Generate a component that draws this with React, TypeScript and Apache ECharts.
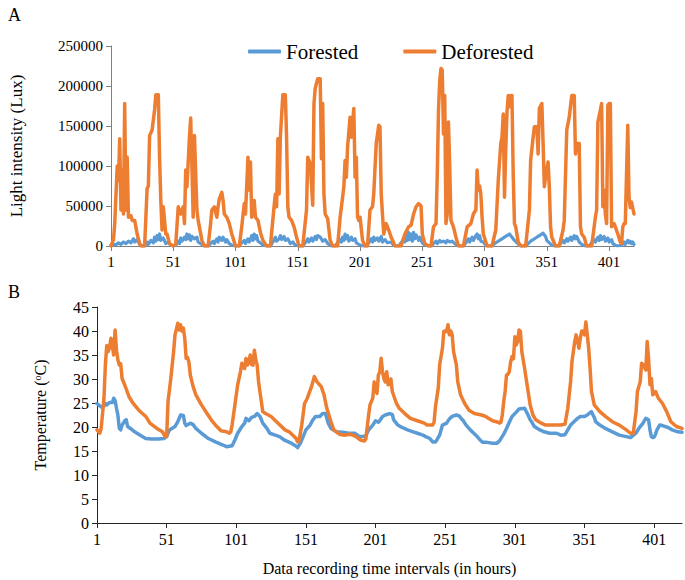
import React, { useEffect, useRef } from "react";
import * as echarts from "echarts";

// ---- Axis tick values ----
const xTickValues = [1, 51, 101, 151, 201, 251, 301, 351, 401];
const xMin = 1;
const xMax = 421;
const lightMax = 250000;
const lightStep = 50000;
const tempMax = 45;
const tempStep = 5;

const legendNames = ["Forested", "Deforested"];

// ---- Panel A: light intensity (Lux), [hour, lux] ----
const forestedLight: [number, number][] = [
  [1,1000],[3,2000],[5,1500],[7,4000],[9,2000],[11,5000],[13,3000],[15,6000],[17,4000],[19,9000],[20,5000],[22,8000],[24,2000],[26,0],
  [28,0],[30,5000],[31,2000],[33,7000],[35,4000],[36,11000],[37,6000],[38,13000],[39,8000],[40,15000],[41,7000],[43,10000],[45,3000],[47,5000],[49,1000],[51,0],
  [53,1000],[55,6000],[56,3000],[57,10000],[58,6000],[60,11000],[61,8000],[62,15000],[63,9000],[64,14000],[65,7000],[66,12000],[68,9000],[70,11000],[71,5000],[73,3000],[76,0],
  [79,0],[81,3000],[83,6000],[84,3000],[86,9000],[87,5000],[88,11000],[90,7000],[91,11000],[93,5000],[94,8000],[96,3000],[98,1000],[101,0],
  [104,0],[106,4000],[108,7000],[109,3000],[111,9000],[112,5000],[113,8000],[114,13000],[115,7000],[116,15000],[117,9000],[118,13000],[119,6000],[121,4000],[123,1000],[126,0],
  [129,0],[131,5000],[133,11000],[134,6000],[136,9000],[137,13000],[138,8000],[140,12000],[141,7000],[143,9000],[145,3000],[147,5000],[149,1000],[152,0],
  [155,0],[157,4000],[159,9000],[160,5000],[162,10000],[163,6000],[165,12000],[166,8000],[167,13000],[169,11000],[171,6000],[173,8000],[175,3000],[178,0],
  [181,0],[183,4000],[185,8000],[186,5000],[187,11000],[188,7000],[189,15000],[190,9000],[191,13000],[192,6000],[194,11000],[195,7000],[197,9000],[198,4000],[200,2000],[203,0],
  [206,0],[208,4000],[210,9000],[211,5000],[212,11000],[213,7000],[215,10000],[216,6000],[218,12000],[219,5000],[221,8000],[223,4000],[226,5000],[228,1000],[230,0],
  [232,0],[234,4000],[236,9000],[237,5000],[238,13000],[239,7000],[240,17000],[241,8000],[242,15000],[243,6000],[244,17000],[245,9000],[246,14000],[248,7000],[249,11000],[251,4000],[253,1000],[256,0],
  [258,0],[260,3000],[262,6000],[263,3000],[265,7000],[266,5000],[268,6000],[270,4000],[271,7000],[273,5000],[275,6000],[277,3000],[279,1000],[281,0],
  [284,0],[286,4000],[288,9000],[289,5000],[291,11000],[292,7000],[294,13000],[295,15000],[296,9000],[297,13000],[298,6000],[300,5000],[302,1000],[304,0],
  [307,0],[309,3000],[311,5000],[313,7000],[315,9000],[317,11000],[319,13000],[321,15000],[323,11000],[325,7000],[327,4000],[329,1000],[331,0],
  [334,0],[336,3000],[338,6000],[340,8000],[342,10000],[344,12000],[346,14000],[348,16000],[350,12000],[351,7000],[353,4000],[355,1000],[357,0],
  [360,0],[362,3000],[364,7000],[365,4000],[367,9000],[368,6000],[370,11000],[371,7000],[373,13000],[374,9000],[375,12000],[377,5000],[379,2000],[382,0],
  [385,0],[387,4000],[389,8000],[390,5000],[392,11000],[393,7000],[394,13000],[395,8000],[397,12000],[398,6000],[400,10000],[401,5000],[403,8000],[404,3000],[406,1000],[408,0],
  [411,1000],[413,5000],[414,2000],[416,7000],[417,4000],[418,6000],[419,3000],[420,5000],[421,2000],
];

const deforestedLight: [number, number][] = [
  [1,0],[3,8000],[4,28000],[6,100000],[7,82000],[8,134000],[9,45000],[10,95000],[11,40000],[12,178000],[13,45000],[14,111000],[15,36000],[17,38000],[18,32000],[20,32000],[22,15000],[24,3000],[25,0],
  [28,0],[30,72000],[31,75000],[32,138000],[34,145000],[36,170000],[37,189000],[39,189000],[40,111000],[41,57000],[42,20000],[43,49000],[45,15000],[46,15000],[48,3000],[51,0],
  [53,2000],[55,49000],[57,40000],[59,49000],[60,28000],[61,95000],[62,74000],[64,136000],[65,160000],[66,99000],[67,36000],[68,138000],[70,45000],[71,32000],[72,24000],[74,7000],[76,0],
  [79,0],[81,28000],[82,45000],[84,49000],[86,36000],[87,49000],[88,59000],[90,67000],[91,57000],[92,40000],[94,36000],[96,28000],[98,15000],[101,0],
  [104,0],[106,24000],[108,53000],[109,40000],[111,111000],[112,70000],[113,105000],[114,36000],[116,57000],[117,36000],[119,32000],[121,17000],[123,7000],[126,0],
  [129,0],[132,50000],[133,65000],[134,49000],[135,134000],[136,65000],[137,136000],[139,189000],[141,189000],[142,136000],[143,49000],[144,36000],[146,32000],[148,24000],[150,11000],[152,0],
  [155,0],[158,45000],[159,111000],[160,107000],[161,103000],[163,51000],[164,178000],[165,197000],[167,209000],[169,209000],[170,109000],[171,178000],[172,65000],[173,40000],[175,34000],[177,7000],[179,0],
  [183,0],[185,36000],[187,61000],[188,74000],[189,107000],[190,86000],[191,124000],[193,161000],[194,136000],[196,172000],[197,86000],[198,111000],[199,36000],[200,32000],[201,36000],[203,7000],[205,0],
  [207,0],[209,45000],[211,49000],[212,65000],[214,128000],[216,151000],[217,149000],[218,65000],[219,40000],[220,15000],[222,28000],[224,20000],[226,11000],[228,4000],[229,0],
  [234,0],[237,15000],[240,24000],[242,26000],[244,40000],[246,49000],[248,53000],[250,50000],[251,15000],[253,3000],[256,0],
  [258,0],[260,24000],[262,28000],[263,88000],[264,170000],[265,207000],[266,222000],[267,220000],[268,140000],[269,188000],[270,28000],[271,40000],[272,155000],[273,100000],[274,32000],[276,24000],[278,11000],[280,0],
  [284,0],[287,24000],[290,28000],[292,40000],[294,45000],[295,95000],[296,70000],[297,75000],[298,65000],[299,36000],[300,15000],[303,0],
  [307,0],[310,20000],[312,82000],[314,128000],[315,136000],[316,165000],[317,61000],[318,120000],[319,167000],[320,188000],[321,174000],[322,188000],[323,188000],[324,90000],[325,28000],[326,24000],[328,5000],[330,0],
  [334,0],[337,45000],[338,107000],[340,136000],[341,149000],[343,149000],[344,115000],[345,172000],[347,178000],[348,128000],[349,74000],[350,86000],[352,105000],[353,74000],[354,24000],[355,11000],[358,0],
  [361,0],[364,20000],[365,32000],[367,145000],[369,161000],[371,188000],[373,188000],[374,115000],[375,128000],[377,128000],[378,24000],[379,15000],[381,11000],[383,0],
  [387,0],[390,36000],[391,45000],[392,155000],[394,170000],[395,178000],[396,49000],[397,70000],[398,40000],[399,28000],[400,176000],[401,178000],[402,178000],[403,24000],[405,28000],[406,24000],[408,15000],[410,5000],[411,3000],
  [412,24000],[413,28000],[414,28000],[415,90000],[416,151000],[417,61000],[418,48000],[419,55000],[421,40000],
];

// ---- Panel B: temperature (°C), [hour, °C] ----
const forestedTemp: [number, number][] = [
  [1,24.9],[3,24.4],[5,24],[7,24.9],[8,24.6],[10,25.1],[12,25.1],[13,26],[14,25.5],[15,23.9],[16,22.5],[17,19.7],[18,19.4],[19,20.4],[21,21.3],[22,21.5],[23,20.1],[25,19.7],[28,19],[32,18.3],[36,17.6],[40,17.5],[45,17.5],[49,17.6],
  [51,18],[53,19.4],[57,20.1],[59,21.1],[61,22.5],[63,22.4],[64,20.8],[65,20.3],[68,20.8],[70,20.5],[72,19.7],[76,18.7],[81,17.6],[86,16.9],[91,16.3],[94,15.9],[98,16.1],
  [100,17.3],[102,18.7],[105,20.1],[107,20.8],[108,21.8],[110,21.3],[112,22],[114,22.2],[116,22.8],[118,22.2],[120,20.8],[123,19.7],[125,18.7],[129,18.3],[132,18],[136,17.2],[140,16.7],[144,16],[145,15.7],
  [147,16.6],[149,18],[151,19.4],[154,20.4],[156,21.5],[158,22.2],[161,22.2],[163,22.8],[165,22.8],[166,21.8],[167,20.8],[169,19.7],[173,19],[177,18.9],[181,18.75],[186,18.7],[189,18.1],[192,18],[194,18.2],
  [196,19.4],[199,20.4],[201,21.3],[203,21],[204,21.3],[206,22.2],[208,22.5],[211,22.8],[213,22.6],[214,21.5],[215,21.1],[217,20.4],[220,19.9],[224,19.4],[228,19],[231,18.7],[235,18.3],[237,18],[240,17.6],[242,16.9],[244,16.9],
  [245,17.3],[247,18.3],[249,20.4],[252,20.8],[254,21.7],[256,22.2],[259,22.5],[261,22.3],[263,21.6],[264,21.3],[266,20.4],[269,19.4],[273,18.3],[276,17.3],[278,16.8],[281,16.8],[285,16.6],[288,16.6],[290,17.1],
  [293,18.5],[295,19.7],[297,21],[299,22.2],[302,23.1],[304,23.75],[308,23.9],[310,22.8],[312,21.5],[313,21.1],[315,20.1],[319,19.4],[322,19],[326,18.7],[331,18.7],[334,18.3],[337,18.4],
  [339,19.4],[341,20.4],[344,21.25],[346,21.8],[348,22.2],[351,22.2],[353,22.5],[355,23],[356,23.2],[358,22],[359,21.1],[362,20.4],[366,19.7],[371,19],[376,18.3],[381,18],[384,17.8],
  [388,18.75],[390,19.7],[393,20.8],[395,21.8],[397,21.5],[398,19.4],[399,18],[400,17.8],[401,17.9],[402,18.5],[403,19.4],[405,20.4],[407,20.3],[411,19.9],[414,19.4],[418,19],[421,18.9],
];

const deforestedTemp: [number, number][] = [
  [1,19.4],[3,18.7],[4,19.7],[6,26],[7,32.9],[8,37],[9,35.7],[10,36.5],[11,38.5],[12,37],[13,35],[14,40.2],[15,36],[16,34],[17,32.9],[18,33.2],[19,30.1],[21,28.7],[24,26.3],[27,24.9],[31,23.5],[36,22.2],[39,20.8],[44,19.7],[48,19],[50,18],
  [51,18],[52,25.3],[54,30.1],[56,35.7],[57,39.2],[59,41.6],[60,40.2],[61,41.3],[62,40],[63,40.6],[64,38.5],[65,34.3],[66,34.5],[67,33.5],[68,30.8],[70,28.4],[72,26.7],[76,24.6],[80,22.8],[83,21.5],[87,20.1],[90,19.2],[94,19],[96,18.7],[97,19],
  [98,20.4],[100,24.6],[102,28.8],[104,31.5],[105,33.3],[106,32.5],[107,32.2],[108,34.3],[109,32.9],[110,33.5],[111,35],[112,33],[113,32.9],[114,36],[115,34],[116,32.9],[117,29.4],[119,25.3],[120,23.2],[122,22.8],[126,22.2],[131,20.8],[136,19.4],[139,19],[144,17.6],[145,16.9],
  [146,17],[148,20.4],[150,24.9],[152,26],[155,28.4],[157,30.5],[159,29.4],[162,28.4],[164,26.7],[166,23.9],[169,21.1],[171,19.4],[175,18.5],[178,18.3],[183,18.5],[187,18],[190,17.3],[193,17.1],
  [194,17.5],[196,22.5],[197,24.6],[199,26],[200,29.4],[201,27.7],[202,27],[203,30.8],[204,31.5],[205,34.3],[206,31.5],[207,30],[208,29.4],[209,31.5],[210,28.8],[211,29],[212,30],[213,27.4],[216,24.9],[218,23.9],[222,22.8],[226,21.8],[231,21.3],[236,20.8],[238,20.4],[242,20.4],
  [243,21],[244,24.2],[246,28.1],[247,32.9],[249,36.4],[250,39.9],[251,40],[252,39.9],[253,41.3],[254,39.2],[255,40],[256,39.2],[257,35.7],[258,34.3],[259,33],[260,29.4],[261,28.1],[262,26.7],[265,24.9],[268,23.5],[272,22.8],[277,22.5],[280,22.2],[285,21.3],[289,21],[290,20.8],
  [291,21],[292,22.5],[293,25.3],[294,27.4],[295,30.8],[296,31],[297,31.5],[298,33.6],[299,34.7],[300,34.2],[301,38.8],[302,37.1],[303,37.8],[304,40.2],[305,39.9],[306,35.7],[308,32.2],[310,28.4],[312,24.6],[314,22.5],[316,21.5],[320,20.8],[323,20.4],[329,20.4],[334,20.4],[337,20.6],
  [339,23.9],[341,29.4],[342,33.6],[344,37.8],[345,39.2],[346,38],[347,36.4],[348,38.5],[349,40],[350,39.9],[351,39.2],[352,41.9],[353,39.2],[354,36.4],[355,32.2],[356,27.4],[358,24.6],[362,23.2],[366,22.2],[371,21.1],[376,20.4],[381,19.4],[384,18.7],[386,18.7],
  [388,23.2],[389,27.4],[391,29.4],[392,33.3],[393,33],[394,32.5],[395,31.9],[396,37.8],[397,34.3],[398,28.8],[399,30.1],[400,26.7],[401,27],[402,27.4],[404,26],[407,24.9],[410,23.2],[413,21.1],[417,20.1],[421,19.7],
];

const BLUE = "#5B9BD5";
const ORANGE = "#ED7D31";
const SERIF = "'Liberation Serif', 'Times New Roman', serif";

function buildOption() {
  const xAxisBase = (gridIndex: number, axisColor: string, fontSize: number, labelMargin: number) => ({
    type: "value",
    gridIndex,
    min: xMin,
    max: xMax,
    axisLine: { show: true, lineStyle: { color: axisColor, width: 1 } },
    axisTick: { show: true, length: 5, customValues: xTickValues, lineStyle: { color: axisColor } },
    axisLabel: {
      customValues: xTickValues,
      color: "#000",
      fontFamily: SERIF,
      fontSize,
      margin: labelMargin,
      formatter: (v: number) => String(v),
    },
    splitLine: { show: false },
  });

  const lineSeries = (name: string, color: string, data: [number, number][], idx: number, width: number) => ({
    name,
    type: "line",
    xAxisIndex: idx,
    yAxisIndex: idx,
    data,
    showSymbol: false,
    symbol: "none",
    lineStyle: { color, width, cap: "round", join: "round" },
    itemStyle: { color },
    emphasis: { disabled: true },
  });

  return {
    animation: false,
    backgroundColor: "#fff",
    title: [
      { text: "A", left: 3, top: 1, textStyle: { fontFamily: SERIF, fontSize: 18, fontWeight: "normal", color: "#000" } },
      { text: "B", left: 3, top: 278, textStyle: { fontFamily: SERIF, fontSize: 18, fontWeight: "normal", color: "#000" } },
    ],
    legend: {
      data: legendNames,
      left: 243,
      top: 36,
      icon: "roundRect",
      itemWidth: 33,
      itemHeight: 4,
      itemGap: 45,
      textStyle: { fontFamily: SERIF, fontSize: 21, color: "#000" },
    },
    grid: [
      { left: 103, top: 46, width: 531, height: 200 },
      { left: 97, top: 307, width: 585, height: 216 },
    ],
    xAxis: [
      xAxisBase(0, "#808080", 15, 8),
      {
        ...xAxisBase(1, "#262626", 16, 8),
        name: "Data recording time intervals (in hours)",
        nameLocation: "middle",
        nameGap: 37,
        nameTextStyle: { fontFamily: SERIF, fontSize: 16, color: "#000" },
      },
    ],
    yAxis: [
      {
        type: "value",
        gridIndex: 0,
        min: 0,
        max: lightMax,
        interval: lightStep,
        name: "Light intensity (Lux)",
        nameLocation: "middle",
        nameRotate: 90,
        nameGap: 86,
        nameTextStyle: { fontFamily: SERIF, fontSize: 17, color: "#000" },
        axisLine: { show: true, lineStyle: { color: "#808080" } },
        axisTick: { show: true, length: 5, lineStyle: { color: "#808080" } },
        axisLabel: { color: "#000", fontFamily: SERIF, fontSize: 15, margin: 8, formatter: (v: number) => String(v) },
        splitLine: { show: false },
      },
      {
        type: "value",
        gridIndex: 1,
        min: 0,
        max: tempMax,
        interval: tempStep,
        name: "Temperature ({sup|o}C)",
        nameLocation: "middle",
        nameRotate: 90,
        nameGap: 48,
        nameTextStyle: {
          fontFamily: SERIF,
          fontSize: 16,
          color: "#000",
          rich: {
            sup: { fontFamily: SERIF, fontSize: 10, color: "#000", verticalAlign: "top", padding: [0, 0, 7, 0] },
          },
        },
        axisLine: { show: true, lineStyle: { color: "#262626" } },
        axisTick: { show: true, length: 5, lineStyle: { color: "#262626" } },
        axisLabel: { color: "#000", fontFamily: SERIF, fontSize: 16, margin: 8 },
        splitLine: { show: false },
      },
    ],
    series: [
      lineSeries(legendNames[0], BLUE, forestedLight, 0, 3.2),
      lineSeries(legendNames[1], ORANGE, deforestedLight, 0, 3.5),
      lineSeries(legendNames[0], BLUE, forestedTemp, 1, 3.5),
      lineSeries(legendNames[1], ORANGE, deforestedTemp, 1, 3.5),
    ],
  };
}

export default function App() {
  const ref = useRef<HTMLDivElement | null>(null);
  useEffect(() => {
    if (!ref.current) return;
    const chart = echarts.init(ref.current, undefined, { renderer: "svg" });
    chart.setOption(buildOption() as any);
    return () => chart.dispose();
  }, []);
  return (
    <div
      ref={ref}
      style={{ position: "absolute", left: 0, top: 0, width: 685, height: 580, background: "#fff" }}
    />
  );
}
